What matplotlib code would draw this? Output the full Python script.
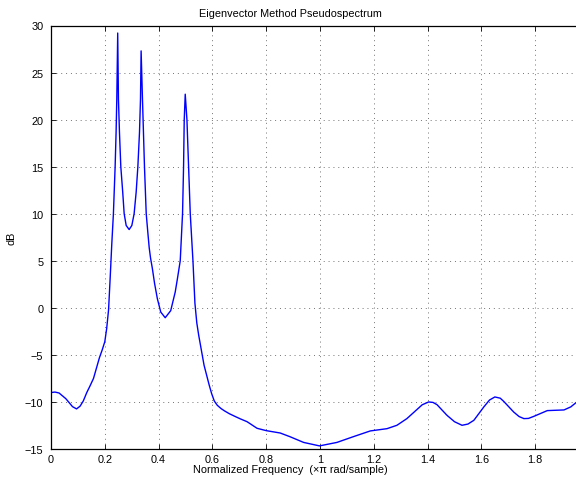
import numpy as np
import matplotlib
matplotlib.use("Agg")
import matplotlib.pyplot as plt

plt.rcParams['font.family'] = ['Liberation Sans', 'DejaVu Sans']

# values (normalized frequency, dB)
freq = [0, 0.015, 0.03, 0.055, 0.08, 0.095, 0.108, 0.12, 0.133, 0.145, 0.158,
        0.17, 0.18, 0.19, 0.2,
        0.207, 0.214, 0.220, 0.226, 0.232, 0.2384, 0.242, 0.2446, 0.248,
        0.2507, 0.2545, 0.2595, 0.2666, 0.272, 0.2795, 0.2905, 0.3005, 0.309,
        0.3166, 0.3229, 0.329, 0.3327, 0.335, 0.340, 0.3475, 0.354, 0.36, 0.365,
        0.37, 0.3767, 0.385, 0.3954, 0.408, 0.4246, 0.445, 0.4618, 0.47, 0.4804,
        0.489, 0.4928,
        0.4953, 0.499, 0.5053, 0.5115, 0.5177, 0.5277, 0.535, 0.542, 0.549,
        0.569, 0.588, 0.597, 0.607, 0.618, 0.632, 0.645, 0.663, 0.685, 0.704,
        0.729, 0.766, 0.8003, 0.852,
        0.889, 0.939, 0.998, 1.063, 1.125, 1.187, 1.249, 1.286, 1.323, 1.361,
        1.38, 1.404, 1.42, 1.435, 1.472, 1.5, 1.528, 1.55, 1.572, 1.609, 1.63,
        1.650, 1.67, 1.683, 1.720, 1.74, 1.758, 1.775,
        1.795, 1.845, 1.907, 1.932, 1.955]
power_db = [-9.0, -8.95, -9.05, -9.65, -10.5, -10.74, -10.45, -9.9, -9.0, -8.3, -7.5,
            -6.3, -5.3, -4.5, -3.6,
            -2.2, -0.2, 3.2, 6.8, 10.0, 15.0, 18.66, 22.2, 29.2,
            22.2, 18.66, 15.0, 12.3, 10.0, 8.75, 8.32, 8.75, 10.0,
            12.3, 15.0, 18.66, 22.2, 27.3, 22.2, 15.0, 10.0, 8.0, 6.4,
            5.3, 4.2, 2.6, 0.97, -0.45, -1.05, -0.3, 1.68, 3.1, 5.0,
            10.0, 15.0,
            20.0, 22.7, 20.0, 15.0, 10.0, 5.0, 0.5, -1.6, -2.9,
            -6.1, -8.2, -9.1, -9.9, -10.35, -10.7, -10.95, -11.25, -11.55, -11.8,
            -12.1, -12.8, -13.05, -13.3,
            -13.7, -14.3, -14.67, -14.3, -13.68, -13.08, -12.84, -12.48, -11.77, -10.79,
            -10.3, -10.0, -10.05, -10.29, -11.42, -12.1, -12.48, -12.35, -11.95, -10.53, -9.8,
            -9.47, -9.6, -9.94, -11.07, -11.55, -11.77, -11.75,
            -11.53, -10.92, -10.85, -10.53, -10.0]

xticks = [0, 0.2, 0.4, 0.6, 0.8, 1, 1.2, 1.4, 1.6, 1.8]
xticklabels = ['0', '0.2', '0.4', '0.6', '0.8', '1', '1.2', '1.4', '1.6', '1.8']
yticks = [-15, -10, -5, 0, 5, 10, 15, 20, 25, 30]

W, H = 576, 481
fig = plt.figure(figsize=(W / 100, H / 100), dpi=100)
# the axes run past the right edge of the picture, as in the cropped original
ax = fig.add_axes([51 / W, 1 - 450 / H, (589 - 51) / W, (450 - 26.5) / H])

ax.plot(freq, power_db, color='#0000ff', lw=1.0)
ax.set_xlim(0, 2)
ax.set_ylim(-15, 30)
ax.set_xticks(xticks)
ax.set_xticklabels(xticklabels)
ax.set_yticks(yticks)
ax.grid(True, color='0.45', linestyle=(0, (1, 4)), lw=0.7)
ax.tick_params(direction='in', top=True, right=True, length=3.5, width=0.6,
               labelsize=7.8, colors='black')
ax.tick_params(axis='x', pad=3.5)
ax.tick_params(axis='y', pad=5.5)
for s in ax.spines.values():
    s.set_linewidth(0.9)

ax.set_ylabel('dB', fontsize=7.8, labelpad=6)
fig.text(290 / W, 1 - 14 / H, 'Eigenvector Method Pseudospectrum',
         ha='center', va='center', fontsize=7.8)
fig.text(290 / W, 1 - 470 / H, 'Normalized Frequency  (\u00d7\u03c0 rad/sample)',
         ha='center', va='center', fontsize=7.8)

fig.savefig('out.png', dpi=100)
